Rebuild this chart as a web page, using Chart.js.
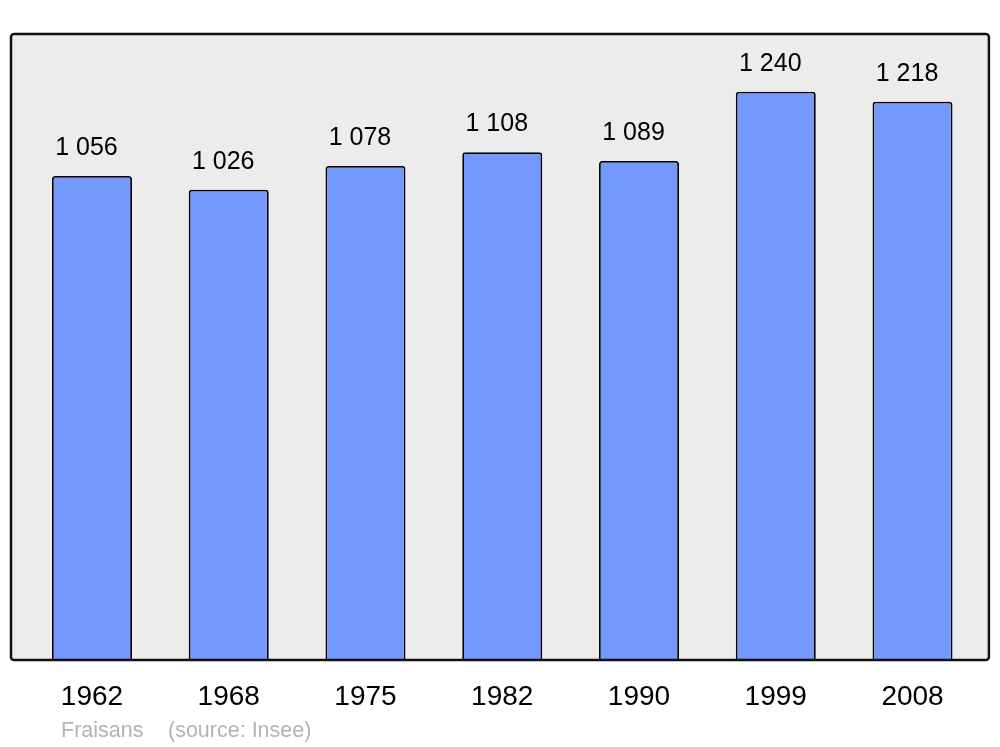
<!DOCTYPE html>
<html>
<head>
<meta charset="utf-8">
<script src="https://cdn.jsdelivr.net/npm/chart.js@4"></script>
<style>
  html, body { margin: 0; padding: 0; background: #ffffff; }
  #wrap { width: 1000px; height: 747px; position: relative; }
</style>
</head>
<body>
<div id="wrap"><canvas id="c" width="1000" height="747"></canvas></div>
<script>
const years = ["1962", "1968", "1975", "1982", "1990", "1999", "2008"];
const population = [1056, 1026, 1078, 1108, 1089, 1240, 1218];
const placeName = "Fraisans";
const sourceText = "(source: Insee)";

function fmt(v) {
  return String(v).replace(/\B(?=(\d{3})+(?!\d))/g, " ");
}

const framePlugin = {
  id: 'frame',
  beforeDraw(chart) {
    const { ctx, chartArea } = chart;
    const l = chartArea.left - 12.6, r = chartArea.right + 8;
    const t = chartArea.top, b = chartArea.bottom;
    ctx.save();
    ctx.beginPath();
    ctx.roundRect(l, t, r - l, b - t, 3);
    ctx.fillStyle = '#ececec';
    ctx.fill();
    ctx.restore();
  },
  afterDatasetsDraw(chart) {
    const { ctx, chartArea } = chart;
    const l = chartArea.left - 12.6, r = chartArea.right + 8;
    const t = chartArea.top, b = chartArea.bottom;
    ctx.save();
    ctx.beginPath();
    ctx.roundRect(l, t, r - l, b - t, 3);
    ctx.lineWidth = 2.5;
    ctx.strokeStyle = '#111111';
    ctx.stroke();
    // value labels
    const meta = chart.getDatasetMeta(0);
    ctx.fillStyle = '#000000';
    ctx.font = '25px "Liberation Sans", Arial, sans-serif';
    ctx.textAlign = 'center';
    ctx.textBaseline = 'middle';
    meta.data.forEach((bar, i) => {
      ctx.fillText(fmt(chart.data.datasets[0].data[i]), bar.x - 5.5, bar.y - 28);
    });
    // footer
    ctx.fillStyle = '#b3b3b3';
    ctx.font = '21.5px "Liberation Sans", Arial, sans-serif';
    ctx.textAlign = 'left';
    ctx.textBaseline = 'alphabetic';
    ctx.fillText(placeName, 61, 737);
    ctx.fillText(sourceText, 168, 737);
    ctx.restore();
  }
};

new Chart(document.getElementById('c'), {
  type: 'bar',
  data: {
    labels: years,
    datasets: [{
      data: population,
      backgroundColor: '#7399ff',
      borderColor: '#000000',
      borderWidth: 1.8,
      borderRadius: 3,
      barPercentage: 0.585,
      categoryPercentage: 1.0
    }]
  },
  options: {
    responsive: false,
    animation: false,
    devicePixelRatio: 1,
    layout: { padding: { left: 23.6, right: 19.1, top: 34, bottom: 0 } },
    plugins: { legend: { display: false }, tooltip: { enabled: false }, title: { display: false } },
    scales: {
      y: { display: false, min: 0, max: 1366 },
      x: {
        grid: { display: false, drawTicks: false },
        border: { display: false },
        ticks: {
          color: '#000000',
          padding: 20,
          font: { family: '"Liberation Sans", Arial, sans-serif', size: 28 }
        },
        afterFit(scale) { scale.height = 87; }
      }
    }
  },
  plugins: [framePlugin]
});
</script>
</body>
</html>
